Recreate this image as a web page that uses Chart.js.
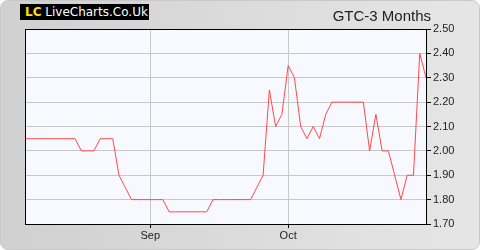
<!DOCTYPE html>
<html>
<head>
<meta charset="utf-8">
<script src="https://cdn.jsdelivr.net/npm/chart.js@4/dist/chart.umd.min.js"></script>
<style>
  html, body { margin: 0; padding: 0; background: #fff; }
  #wrap {
    position: relative; width: 478px; height: 248px;
    border: 1px solid #c9c9c9; border-radius: 8px;
    background: linear-gradient(to right, #d0d0d0, #e6e6e6);
    overflow: hidden;
  }
  #logo {
    position: absolute; left: 19px; top: 3px; width: 129px; height: 16px;
    background: #000; color: #fff; font: 12px "DejaVu Sans", sans-serif;
    line-height: 16px; white-space: nowrap; padding-left: 5px; box-sizing: border-box;
  }
  #logo b { color: #ffe000; }
  #title {
    position: absolute; right: 48px; top: 6px;
    font: 15px "Liberation Sans", Arial, sans-serif; color: #222;
  }
  canvas { position: absolute; left: -1px; top: -1px; }
</style>
</head>
<body>
<div id="wrap">
  <canvas id="gtcChart" width="480" height="250"></canvas>
  <div id="logo"><b>LC</b> LiveCharts.Co.Uk</div>
  <div id="title">GTC-3 Months</div>
</div>
<script>
// daily closes, oldest first (65 trading days)
const prices = [
  2.05, 2.05, 2.05, 2.05, 2.05, 2.05, 2.05, 2.05, 2.05, 2.00,
  2.00, 2.00, 2.05, 2.05, 2.05, 1.90, 1.85, 1.80, 1.80, 1.80,
  1.80, 1.80, 1.80, 1.75, 1.75, 1.75, 1.75, 1.75, 1.75, 1.75,
  1.80, 1.80, 1.80, 1.80, 1.80, 1.80, 1.80, 1.85, 1.90, 2.25,
  2.10, 2.15, 2.35, 2.30, 2.10, 2.05, 2.10, 2.05, 2.15, 2.20,
  2.20, 2.20, 2.20, 2.20, 2.20, 2.00, 2.15, 2.00, 2.00, 1.90,
  1.80, 1.90, 1.90, 2.40, 2.30
];
const monthTicks = [20, 42];        // index of first trading day in month
const monthLabels = ['Sep', 'Oct'];
const yMin = 1.70, yMax = 2.50, yStep = 0.10;

const font = { family: '"Liberation Sans", Arial, sans-serif', size: 11 };

// plot background and frame
const plotFrame = {
  id: 'plotFrame',
  beforeDraw(chart) {
    const { ctx, chartArea: a } = chart;
    ctx.save();
    ctx.fillStyle = '#f8f9ff';
    ctx.fillRect(a.left, a.top, a.right - a.left, a.bottom - a.top);
    ctx.restore();
  },
  afterDraw(chart) {
    const { ctx, chartArea: a } = chart;
    ctx.save();
    ctx.strokeStyle = '#000';
    ctx.lineWidth = 1;
    ctx.strokeRect(Math.round(a.left) + 0.5, Math.round(a.top) + 0.5,
      Math.round(a.right - a.left), Math.round(a.bottom - a.top));
    ctx.restore();
  }
};

new Chart(document.getElementById('gtcChart').getContext('2d'), {
  type: 'line',
  data: {
    datasets: [{
      data: prices.map((p, i) => ({ x: i, y: p })),
      borderColor: '#ff4a4a',
      borderWidth: 1,
      pointRadius: 0,
      tension: 0,
      fill: false
    }]
  },
  options: {
    responsive: false,
    animation: false,
    layout: { padding: { left: 25, top: 29, right: 0, bottom: 0 } },
    scales: {
      x: {
        type: 'linear',
        min: 0,
        max: prices.length - 1,
        afterBuildTicks: axis => { axis.ticks = monthTicks.map(v => ({ value: v })); },
        afterFit: axis => { axis.height = 26; },
        ticks: {
          autoSkip: false,
          maxRotation: 0,
          padding: 1,
          color: '#222',
          font: font,
          callback: (v) => monthLabels[monthTicks.indexOf(v)]
        },
        grid: { color: '#c8c8c8', tickColor: '#000', tickLength: 4 },
        border: { color: '#000' }
      },
      y: {
        position: 'right',
        min: yMin,
        max: yMax,
        afterFit: axis => { axis.width = 54; },
        ticks: {
          stepSize: yStep,
          padding: 2,
          color: '#222',
          font: font,
          callback: v => v.toFixed(2)
        },
        grid: { color: '#c8c8c8', tickColor: '#000', tickLength: 5 },
        border: { color: '#000' }
      }
    },
    plugins: {
      legend: { display: false },
      tooltip: { enabled: false }
    }
  },
  plugins: [plotFrame]
});
</script>
</body>
</html>
